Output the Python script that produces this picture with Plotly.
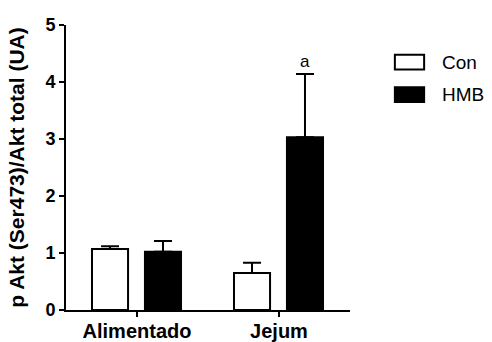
import plotly.graph_objects as go

categories = ["Alimentado", "Jejum"]
con_values = [1.07, 0.65]
con_err = [0.05, 0.18]
hmb_values = [1.02, 3.03]
hmb_err = [0.19, 1.11]
annot_text = ["", "a"]
series_names = ["Con", "HMB"]
series_fill = ["white", "black"]

FONT = "Liberation Sans, Arial"

fig = go.Figure()
fig.add_trace(go.Bar(
    name=series_names[0], x=categories, y=con_values,
    offset=-0.317, width=0.254,
    marker=dict(color=series_fill[0], line=dict(color="black", width=2)),
    error_y=dict(type="data", array=con_err, arrayminus=[0, 0], symmetric=False,
                 color="black", thickness=2, width=9),
))
fig.add_trace(go.Bar(
    name=series_names[1], x=categories, y=hmb_values,
    offset=0.056, width=0.254,
    marker=dict(color=series_fill[1], line=dict(color="black", width=2)),
    error_y=dict(type="data", array=hmb_err, arrayminus=[0, 0], symmetric=False,
                 color="black", thickness=2, width=9),
))

for i, t in enumerate(annot_text):
    if t:
        fig.add_annotation(x=i + 0.183, y=hmb_values[i] + hmb_err[i], text=t,
                           showarrow=False, yshift=13,
                           font=dict(family=FONT, size=17, color="black"))

# legend drawn as boxes + labels in the right margin
leg_y = [0.870, 0.756]
for name, fill, yc in zip(series_names, series_fill, leg_y):
    fig.add_shape(type="rect", xref="paper", yref="paper",
                  x0=1.158, x1=1.261, y0=yc - 0.026, y1=yc + 0.026,
                  fillcolor=fill, line=dict(color="black", width=2))
    fig.add_annotation(xref="paper", yref="paper", x=1.318, y=yc, text=name,
                       showarrow=False, xanchor="left", yanchor="middle",
                       font=dict(family=FONT, size=19, color="black"))

fig.update_layout(
    width=492, height=342,
    margin=dict(l=66, r=142, t=25, b=32),
    plot_bgcolor="white", paper_bgcolor="white",
    font=dict(family=FONT, color="black"),
    showlegend=False,
    xaxis=dict(range=[-0.5, 1.5], showline=True, linecolor="black", linewidth=2,
               ticks="outside", ticklen=5, tickwidth=2, tickcolor="black",
               ticklabelstandoff=-3,
               tickfont=dict(size=20, family=FONT, weight="bold"),
               showgrid=False, zeroline=False, automargin=False),
    yaxis=dict(range=[0, 5], dtick=1, showline=True, linecolor="black", linewidth=2,
               ticks="outside", ticklen=5, tickwidth=2, tickcolor="black",
               tickfont=dict(size=18, family=FONT, weight="bold"),
               showgrid=False, zeroline=False, automargin=False,
               title=dict(text="p Akt (Ser473)/Akt total (UA)",
                          font=dict(size=21, family=FONT, weight="bold"))),
)

fig.write_html("out.html", config={"displayModeBar": False},
               post_script="document.body.style.margin='0px';")
